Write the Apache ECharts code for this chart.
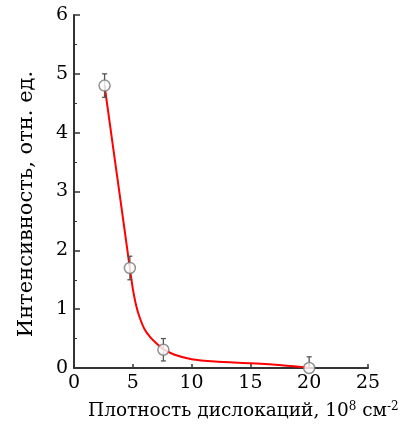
<!DOCTYPE html>
<html>
<head>
<meta charset="utf-8">
<script src="https://cdn.jsdelivr.net/npm/echarts@6/dist/echarts.min.js"></script>
<style>
  html, body { margin: 0; padding: 0; background: #ffffff; }
  #chart { width: 411px; height: 430px; }
</style>
</head>
<body>
<div id="chart"></div>
<script>
const pointX = [2.6, 4.75, 7.6, 20]
const pointY = [4.8, 1.7, 0.31, 0.0]
const errLow = [4.6, 1.5, 0.12, -0.2]
const errHigh = [5.0, 1.9, 0.5, 0.19]

// fitted curve
const curveX = [2.6, 3.5, 4.3, 4.8, 5.0, 5.3, 5.6, 6.0, 6.5, 7.0, 7.6, 8.5, 10, 12, 15, 17.5, 20]
const curveY = [4.8, 3.5, 2.35, 1.62, 1.35, 1.05, 0.85, 0.66, 0.52, 0.42, 0.32, 0.23, 0.15, 0.11, 0.08, 0.05, 0.0]

const FONT = 'DejaVu Serif'
const AXIS_COLOR = '#333333'

const chart = echarts.init(document.getElementById('chart'))

chart.setOption({
  animation: false,
  textStyle: { fontFamily: FONT },
  grid: {
    left: 74,
    right: 43,
    top: 15,
    bottom: 62,
    outerBoundsMode: 'none'
  },
  xAxis: {
    type: 'value',
    min: 0,
    max: 25,
    interval: 5,
    splitLine: { show: false },
    axisLine: { lineStyle: { color: AXIS_COLOR, width: 2 } },
    axisTick: { inside: true, length: 4, lineStyle: { color: AXIS_COLOR, width: 1.5 } },
    axisLabel: { color: '#000', fontFamily: FONT, fontSize: 19, margin: 6 }
  },
  yAxis: {
    type: 'value',
    min: 0,
    max: 6,
    interval: 1,
    splitLine: { show: false },
    axisLine: { show: true, lineStyle: { color: AXIS_COLOR, width: 2 } },
    axisTick: { inside: true, length: 6, lineStyle: { color: AXIS_COLOR, width: 1.5 } },
    minorTick: { show: true, splitNumber: 2, length: 3, lineStyle: { color: AXIS_COLOR, width: 1 } },
    axisLabel: { color: '#000', fontFamily: FONT, fontSize: 19, margin: 6 }
  },
  graphic: [
    {
      type: 'text',
      left: 88,
      top: 401,
      style: {
        text: 'Плотность дислокаций, 10{sup|8} см{sup|-2}',
        fill: '#000',
        fontFamily: FONT,
        fontSize: 18.5,
        rich: {
          sup: { fontSize: 12, fontFamily: FONT, verticalAlign: 'top', lineHeight: 20, padding: [0, 0, 8, 0] }
        }
      }
    },
    {
      type: 'text',
      x: 27,
      y: 204,
      rotation: Math.PI / 2,
      style: {
        text: 'Интенсивность, отн. ед.',
        fill: '#000',
        fontFamily: FONT,
        fontSize: 21,
        align: 'center',
        verticalAlign: 'middle'
      }
    }
  ],
  series: [
    {
      type: 'line',
      data: curveX.map((x, i) => [x, curveY[i]]),
      smooth: 0.2,
      showSymbol: false,
      lineStyle: { color: '#ff0000', width: 2 },
      z: 2
    },
    {
      type: 'custom',
      clip: true,
      data: pointX.map((x, i) => [x, errLow[i], errHigh[i]]),
      renderItem: (params, api) => {
        const lo = api.coord([api.value(0), api.value(1)])
        const hi = api.coord([api.value(0), api.value(2)])
        const cap = 2.5
        const style = { stroke: '#555555', lineWidth: 1.3 }
        return {
          type: 'group',
          children: [
            { type: 'line', shape: { x1: lo[0], y1: lo[1], x2: hi[0], y2: hi[1] }, style },
            { type: 'line', shape: { x1: hi[0] - cap, y1: hi[1], x2: hi[0] + cap, y2: hi[1] }, style },
            { type: 'line', shape: { x1: lo[0] - cap, y1: lo[1], x2: lo[0] + cap, y2: lo[1] }, style }
          ]
        }
      },
      z: 3
    },
    {
      type: 'scatter',
      data: pointX.map((x, i) => [x, pointY[i]]),
      symbol: 'circle',
      symbolSize: 11,
      itemStyle: { color: '#ffffff', borderColor: '#777777', borderWidth: 1.5 },
      z: 4
    }
  ]
})
</script>
</body>
</html>
